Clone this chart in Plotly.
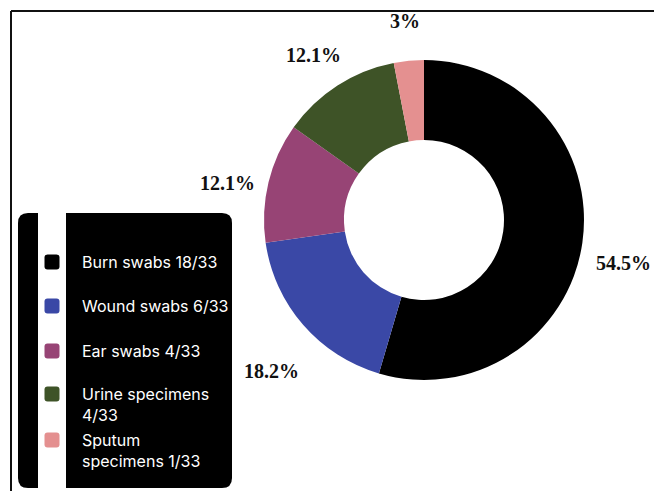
import plotly.graph_objects as go

# ---- data ----
categories = ["Burn swabs", "Wound swabs", "Ear swabs", "Urine specimens", "Sputum specimens"]
counts = [18, 6, 4, 4, 1]
legend_lines = [["Burn swabs 18/33"], ["Wound swabs 6/33"], ["Ear swabs 4/33"],
                ["Urine specimens", "4/33"], ["Sputum", "specimens 1/33"]]

# ---- styles / layout ----
colors = ["#000000", "#3a48a6", "#974475", "#3e5327", "#e49090"]
W, H = 654, 491
CX, CY, R = 424, 220, 160
label_pos = [(623, 263), (271, 371), (227, 183), (313, 55), (405, 21)]
legend_y = [262, 306, 351, 394, 440]


def px(x):
    return x / W


def py(y):
    return 1 - y / H


total = sum(counts)

fig = go.Figure()
fig.add_trace(go.Pie(
    labels=categories,
    values=counts,
    hole=0.5,
    sort=False,
    direction="clockwise",
    rotation=0,
    marker=dict(colors=colors, line=dict(width=0)),
    textinfo="none",
    hoverinfo="label+percent",
    showlegend=False,
    domain=dict(x=[px(CX - R), px(CX + R)], y=[py(CY + R), py(CY - R)]),
))

annotations = []
for v, (lx, ly) in zip(counts, label_pos):
    pct = round(v / total * 100, 1)
    txt = (f"{pct:.1f}".rstrip("0").rstrip(".")) + "%"
    annotations.append(dict(
        x=px(lx), y=py(ly), xref="paper", yref="paper", text=f"<b>{txt}</b>",
        showarrow=False, xanchor="center", yanchor="middle",
        font=dict(family="Liberation Serif", size=20, color="#111111"),
    ))

shapes = []
# frame lines
shapes.append(dict(type="line", xref="paper", yref="paper", x0=px(11), y0=py(11), x1=1, y1=py(11),
                   line=dict(color="#111111", width=2)))
shapes.append(dict(type="line", xref="paper", yref="paper", x0=px(11), y0=py(11), x1=px(11), y1=0,
                   line=dict(color="#111111", width=2)))

# legend box (rounded rectangle) in pixel coords -> paper
x0, x1, y0, y1, rr = 18, 232, 213, 488, 10
path = (f"M {px(x0 + rr)} {py(y0)} L {px(x1 - rr)} {py(y0)} "
        f"Q {px(x1)} {py(y0)} {px(x1)} {py(y0 + rr)} L {px(x1)} {py(y1 - rr)} "
        f"Q {px(x1)} {py(y1)} {px(x1 - rr)} {py(y1)} L {px(x0 + rr)} {py(y1)} "
        f"Q {px(x0)} {py(y1)} {px(x0)} {py(y1 - rr)} L {px(x0)} {py(y0 + rr)} "
        f"Q {px(x0)} {py(y0)} {px(x0 + rr)} {py(y0)} Z")
shapes.append(dict(type="path", xref="paper", yref="paper", path=path,
                   fillcolor="#000000", line=dict(width=0)))
shapes.append(dict(type="rect", xref="paper", yref="paper", x0=px(38), x1=px(66), y0=py(y1), y1=py(y0),
                   fillcolor="#ffffff", line=dict(width=0)))

for c, ym, lines in zip(colors, legend_y, legend_lines):
    s, r2 = 7.5, 3
    mx = 52
    a, b, t, u = mx - s, mx + s, ym - s, ym + s
    mpath = (f"M {px(a + r2)} {py(t)} L {px(b - r2)} {py(t)} Q {px(b)} {py(t)} {px(b)} {py(t + r2)} "
             f"L {px(b)} {py(u - r2)} Q {px(b)} {py(u)} {px(b - r2)} {py(u)} L {px(a + r2)} {py(u)} "
             f"Q {px(a)} {py(u)} {px(a)} {py(u - r2)} L {px(a)} {py(t + r2)} Q {px(a)} {py(t)} {px(a + r2)} {py(t)} Z")
    shapes.append(dict(type="path", xref="paper", yref="paper", path=mpath,
                       fillcolor=c, line=dict(width=0)))
    for i, line in enumerate(lines):
        annotations.append(dict(
            x=px(80), y=py(ym + 21 * i), xref="paper", yref="paper", text=line,
            showarrow=False, xanchor="left", yanchor="middle",
            font=dict(family="Inter", size=16, color="#ffffff"),
        ))

fig.update_layout(
    width=W, height=H,
    margin=dict(l=0, r=0, t=0, b=0),
    paper_bgcolor="#ffffff",
    plot_bgcolor="#ffffff",
    shapes=shapes,
    annotations=annotations,
)

fig.write_html("out.html", config={"displayModeBar": False},
               post_script="document.body.style.margin='0';document.body.style.overflow='hidden';")
